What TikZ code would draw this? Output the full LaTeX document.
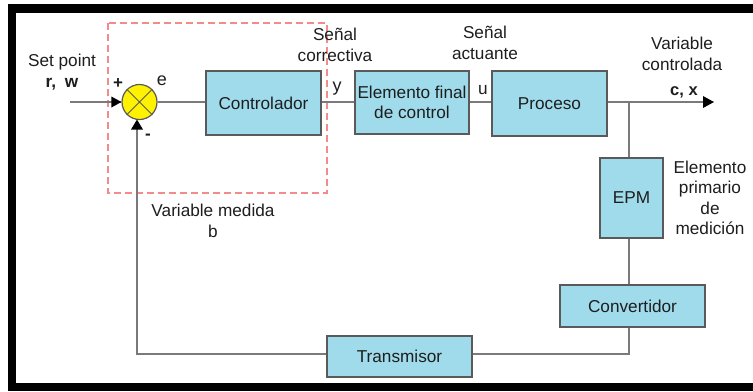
\documentclass[tikz,border=0pt]{standalone}
\usepackage{fontspec}
\setmainfont{Liberation Sans}
\usetikzlibrary{arrows.meta,shapes.geometric}
\definecolor{boxfill}{HTML}{9FDBEB}
\definecolor{boxline}{HTML}{5A5A5A}
\definecolor{wire}{HTML}{7A7A7A}
\definecolor{dashred}{HTML}{F58A8A}
\definecolor{txt}{HTML}{1E1E1E}
\tikzset{
  blk/.style={draw=boxline, line width=1.3bp, fill=boxfill, inner sep=0pt,
    text=txt, font=\fontsize{17.2bp}{20.5bp}\selectfont, align=center},
  wirel/.style={draw=wire, line width=1.6bp},
  lbl/.style={text=txt, font=\fontsize{17.2bp}{20.5bp}\selectfont, align=center, inner sep=0pt},
}
\begin{document}
\begin{tikzpicture}[x=1bp,y=-1bp]
\useasboundingbox (0,0) rectangle (753,391);
% outer frame
\fill[white] (0,0) rectangle (753,391);
\fill[black] (8,4) rectangle (753,13);
\fill[black] (8,4) rectangle (16,391);
\fill[black] (8,383) rectangle (753,391);

% dashed controller boundary
\draw[dashred, line width=1.4bp, dash pattern=on 7bp off 4bp] (108,23) rectangle (327,193);

% blocks
\node[blk, minimum width=115bp, minimum height=64bp] (ctrl) at (263.5,103) {Controlador};
\node[blk, minimum width=114bp, minimum height=63bp] (efc) at (412,102.5) {Elemento final\\de control};
\node[blk, minimum width=115bp, minimum height=65bp] (proc) at (549.5,103.5) {Proceso};
\node[blk, minimum width=63bp, minimum height=80bp] (epm) at (631.5,198) {EPM};
\node[blk, minimum width=145bp, minimum height=42bp] (conv) at (632.5,306) {Convertidor};
\node[blk, minimum width=145bp, minimum height=41bp] (trans) at (399.5,356.5) {Transmisor};

% coordinates for the signal paths
\coordinate (in) at (70,102);
\coordinate (tap) at (629,102);
\coordinate (cbot) at (629,354);
\coordinate (fbcorner) at (137,354);

% summing junction
\node[circle, draw=boxline, line width=1.2bp, fill=yellow, minimum size=35bp, inner sep=0pt] (sum) at (139.5,102) {};
\draw[boxline, line width=1bp] (sum.45) -- (sum.225) (sum.135) -- (sum.315);

% wires
\draw[wirel] (in) -- (sum.west);
\draw[wirel] (sum.east) -- (ctrl.west |- sum.east);
\draw[wirel] (ctrl.east |- 0,102) -- (efc.west |- 0,102);
\draw[wirel] (efc.east |- 0,102) -- (proc.west |- 0,102);
\draw[wirel] (proc.east |- 0,102) -- (704,102);
\draw[wirel] (tap) -- (epm.north -| tap);
\draw[wirel] (epm.south -| tap) -- (conv.north -| tap);
\draw[wirel] (conv.south -| tap) -- (cbot) -- (trans.east |- cbot);
\draw[wirel] (trans.west |- cbot) -- (fbcorner) -- (137,121);

% arrow heads
\fill[black] (sum.west) -- ++(-10,-5.5) -- ++(0,11) -- cycle;
\fill[black] (137,119.5) -- ++(-6,10) -- ++(12,0) -- cycle;
\coordinate (out) at (714,102);
\fill[black] (out) -- ++(-11,-6) -- ++(0,12) -- cycle;

% labels
\node[lbl] (sp) at (62,72) {Set point\\[1bp]\textbf{r,\,\,\,w}};
\node[lbl, font=\bfseries\fontsize{17bp}{20bp}\selectfont] (plus) at (118,84) {+};
\node[lbl, font=\fontsize{18bp}{20bp}\selectfont] (elab) at (162,81) {e};
\node[lbl, font=\bfseries\fontsize{17bp}{20bp}\selectfont] (minus) at (148,137) {-};
\node[lbl] (sc) at (335,45) {Señal\\correctiva};
\node[lbl, font=\fontsize{18bp}{20bp}\selectfont] (ylab) at (337,89) {y};
\node[lbl] (sa) at (485,43) {Señal\\actuante};
\node[lbl] (ulab) at (483,90) {u};
\node[lbl] (vc) at (682,54) {Variable\\controlada};
\node[lbl, font=\bfseries\fontsize{16.5bp}{20bp}\selectfont] (cx) at (684,92) {c, x};
\node[lbl] (epmtxt) at (710,198) {Elemento\\primario\\de\\medición};
\node[lbl] (vm) at (213,221) {Variable medida\\b};
\end{tikzpicture}
\end{document}
